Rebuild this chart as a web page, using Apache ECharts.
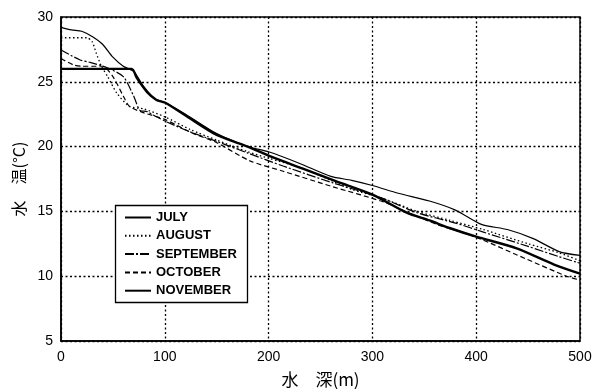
<!DOCTYPE html>
<html>
<head>
<meta charset="utf-8">
<script src="https://cdn.jsdelivr.net/npm/echarts@6/dist/echarts.min.js"></script>
<style>
  html, body { margin: 0; padding: 0; background: #fff; }
  #chart { width: 605px; height: 389px; }
</style>
</head>
<body>
<div id="chart"></div>
<script>
// Water temperature profiles by month: [depth (m), temperature (°C)]
const monthNames = ['JULY', 'AUGUST', 'SEPTEMBER', 'OCTOBER', 'NOVEMBER'];

const july = [
  [0, 29.2], [10, 29.0], [20, 28.9], [30, 28.5], [40, 27.9], [50, 26.9], [60, 26.2],
  [70, 25.8], [80, 24.6], [90, 23.7], [100, 23.4], [120, 22.5], [150, 21.0], [180, 20.0],
  [200, 19.6], [230, 18.7], [260, 17.7], [280, 17.4], [300, 17.0], [325, 16.4], [355, 15.8],
  [380, 15.1], [405, 14.0], [430, 13.6], [455, 12.9], [480, 11.9], [500, 11.6]
];
const august = [
  [0, 28.4], [25, 28.4], [30, 28.1], [34, 27.2], [39, 26.2], [45, 25.4], [54, 24.1],
  [66, 23.1], [80, 22.9], [100, 22.3], [125, 21.3], [150, 20.5], [180, 19.6], [200, 19.1],
  [230, 18.4], [260, 17.4], [280, 16.7], [310, 16.0], [343, 15.0], [375, 14.3], [407, 13.6],
  [450, 12.5], [480, 11.8], [500, 11.2]
];
const september = [
  [0, 27.45], [18, 26.7], [28, 26.5], [44, 26.1], [60, 25.4], [70, 23.9], [76, 22.8],
  [83, 22.7], [92, 22.3], [102, 21.9], [124, 21.15], [150, 20.4], [180, 19.5], [214, 18.5],
  [262, 17.2], [310, 16.0], [343, 14.9], [380, 14.1], [407, 13.4], [450, 12.3], [480, 11.5],
  [500, 11.0]
];
const october = [
  [0, 26.8], [12, 26.3], [20, 26.2], [40, 26.2], [50, 25.4], [60, 23.9], [66, 23.1],
  [80, 22.6], [100, 22.1], [125, 21.1], [150, 20.3], [182, 18.9], [214, 18.1], [262, 16.9],
  [310, 15.75], [336, 14.85], [362, 14.0], [400, 13.0], [449, 11.3], [487, 10.0], [500, 9.7]
];
const november = [
  [0, 26.0], [68, 26.0], [73, 25.3], [83, 24.2], [92, 23.6], [100, 23.4], [120, 22.4],
  [150, 20.9], [180, 20.0], [200, 19.3], [233, 18.3], [266, 17.3], [300, 16.3], [333, 14.9],
  [355, 14.3], [375, 13.7], [400, 13.05], [439, 12.15], [475, 10.9], [500, 10.2]
];

const xTicks = { min: 0, max: 500, interval: 100 };
const yTicks = { min: 5, max: 30, interval: 5 };

const seriesData = [july, august, september, october, november];
const lineStyles = [
  { width: 1.2, type: 'solid' },
  { width: 1.3, type: [1.5, 2.5] },
  { width: 1.2, type: [9, 2, 2, 2] },
  { width: 1.2, type: [5, 3] },
  { width: 2.4, type: 'solid' }
];

const chart = echarts.init(document.getElementById('chart'), null, { renderer: 'canvas' });

const labelFont = { color: '#000', fontSize: 14, fontFamily: 'Liberation Sans, Arial, sans-serif' };
const splitStyle = { show: true, lineStyle: { color: '#000', width: 1.3, type: [2, 2.5] } };

chart.setOption({
  animation: false,
  backgroundColor: '#fff',
  grid: {
    left: 61, right: 25, top: 17, bottom: 48,
    outerBoundsMode: 'none',
    containLabel: false,
    show: true, borderColor: '#000', borderWidth: 1.5, backgroundColor: 'transparent'
  },
  xAxis: {
    type: 'value',
    min: xTicks.min, max: xTicks.max, interval: xTicks.interval,
    name: '水\u3000深(m)',
    nameLocation: 'middle',
    nameGap: 30,
    nameTextStyle: { color: '#000', fontSize: 17, fontFamily: 'Noto Sans CJK JP, sans-serif' },
    axisLine: { show: true, lineStyle: { color: '#000', width: 1.5 } },
    axisTick: { show: false },
    axisLabel: Object.assign({ margin: 9 }, labelFont),
    splitLine: splitStyle
  },
  yAxis: {
    type: 'value',
    min: yTicks.min, max: yTicks.max, interval: yTicks.interval,
    name: '水\u3000温(°C)',
    nameLocation: 'middle',
    nameGap: 30,
    nameRotate: 90,
    nameTextStyle: { color: '#000', fontSize: 16, fontFamily: 'Noto Sans CJK JP, sans-serif' },
    axisLine: { show: true, lineStyle: { color: '#000', width: 1.5 } },
    axisTick: { show: false },
    axisLabel: Object.assign({ margin: 8 }, labelFont),
    splitLine: splitStyle
  },
  graphic: [{
    type: 'rect',
    z: 3,
    shape: { x: 115.5, y: 205.5, width: 132, height: 97 },
    style: { fill: '#fff', stroke: '#000', lineWidth: 1.3 }
  }],
  legend: {
    z: 5,
    orient: 'vertical',
    left: 124, top: 211,
    padding: 0,
    itemWidth: 26, itemHeight: 14, itemGap: 5.3,
    itemStyle: { opacity: 0 },
    textStyle: { color: '#000', fontSize: 13, fontWeight: 'bold', fontFamily: 'Liberation Sans, Arial, sans-serif' },
    data: monthNames
  },
  series: monthNames.map((name, i) => ({
    name: name,
    type: 'line',
    data: seriesData[i],
    symbol: 'none',
    smooth: 0.25,
    lineStyle: Object.assign({ color: '#000' }, lineStyles[i]),
    itemStyle: { color: '#000' },
    z: 2
  }))
});
</script>
</body>
</html>
